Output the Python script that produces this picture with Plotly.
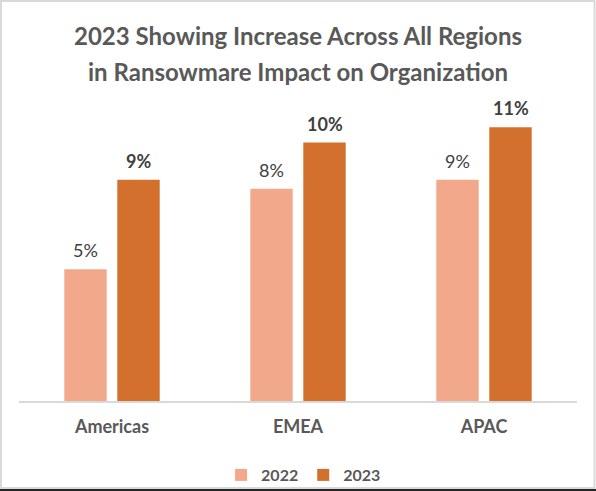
import plotly.graph_objects as go

categories = ["Americas", "EMEA", "APAC"]
series_names = ["2022", "2023"]
values_2022 = [5.15, 8.3, 8.65]
values_2023 = [8.65, 10.1, 10.7]
title_lines = ["2023 Showing Increase Across All Regions",
               "in Ransowmare Impact on Organization"]

W, H = 596, 491
L, R, T, B = 19, 19, 94, 90
PW, PH = W - L - R, H - T - B
YMAX = 12

C22 = "#F2A98B"
C23 = "#D4702D"
GRAY = "#595959"
FONT = "Lato"

def px_x(p):
    return (p - L) / PW

def px_y(p):
    return (H - B - p) / PH

fig = go.Figure()
for name, vals, col in [(series_names[0], values_2022, C22), (series_names[1], values_2023, C23)]:
    fig.add_trace(go.Bar(x=categories, y=vals, name=f"<b>{name}</b>", marker_color=col,
                         marker_line_width=0, hoverinfo="skip"))

bargap, bargroupgap = 0.43, 0.2
slot = PW / len(categories) * (1 - bargap) / 2

annotations = []
for i, vals in enumerate([values_2022, values_2023]):
    for c, v in zip(categories, vals):
        label = f"{v:.0f}%"
        if i == 1:
            label = f"<b>{label}</b>"
        annotations.append(dict(x=c, y=v, xref="x", yref="y", text=label,
                                showarrow=False, yanchor="bottom",
                                xshift=(i - 0.5) * slot, yshift=6,
                                font=dict(family=FONT, size=18, color="#404040")))

for line, py in zip(title_lines, [36, 72]):
    annotations.append(dict(x=0.5, y=px_y(py), xref="paper", yref="paper", text=f"<b>{line}</b>",
                            showarrow=False, yanchor="middle", xanchor="center",
                            font=dict(family=FONT, size=24, color=GRAY)))

shapes = [
    dict(type="rect", xref="paper", yref="paper", x0=px_x(1), x1=px_x(594.5), y0=px_y(488), y1=px_y(1),
         line=dict(color="#D9D9D9", width=2), fillcolor="rgba(0,0,0,0)", layer="below"),
    dict(type="line", xref="paper", yref="paper", x0=px_x(0), x1=px_x(596), y0=px_y(490), y1=px_y(490),
         line=dict(color="#262626", width=2)),
]

fig.update_layout(
    width=W, height=H,
    margin=dict(l=L, r=R, t=T, b=B, autoexpand=False),
    paper_bgcolor="white", plot_bgcolor="white",
    barmode="group", bargap=bargap, bargroupgap=bargroupgap,
    showlegend=True,
    legend=dict(orientation="h", x=0.51, xanchor="center", y=px_y(475), yanchor="middle",
                font=dict(family=FONT, size=16, color=GRAY), itemwidth=30,
                bgcolor="rgba(0,0,0,0)", traceorder="normal"),
    annotations=annotations,
    shapes=shapes,
    font=dict(family=FONT, color=GRAY),
)
fig.update_xaxes(showline=True, linecolor="#D9D9D9", linewidth=1.5, ticks="",
                 tickvals=categories, ticktext=[f"<b>{c}</b>" for c in categories],
                 tickfont=dict(family=FONT, size=18, color=GRAY), ticklabelstandoff=9,
                 showgrid=False, zeroline=False, automargin=False)
fig.update_yaxes(visible=False, range=[0, YMAX], showgrid=False, zeroline=False)

fig.write_html("out.html", config={"displayModeBar": False},
               post_script="document.body.style.margin='0';document.body.style.overflow='hidden';")
